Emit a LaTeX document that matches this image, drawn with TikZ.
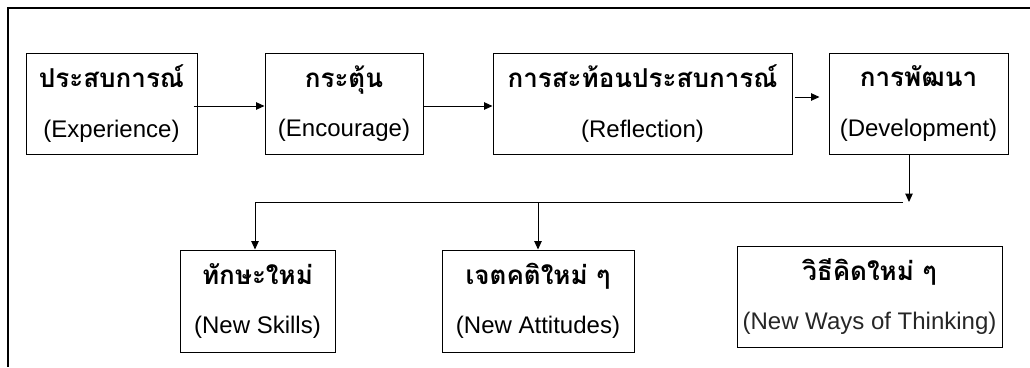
\documentclass[tikz,border=0pt]{standalone}
\usepackage{fontspec}
\setmainfont{Liberation Sans}
\newfontfamily\thai[Script=Thai]{Loma}
\usetikzlibrary{arrows.meta}
\tikzset{
  box/.style={draw, line width=1pt, inner sep=0pt, align=center, minimum height=101pt},
  arr/.style={line width=1pt, -{Triangle[length=8.5pt,width=7.5pt]}},
  ln/.style={line width=1pt},
}
\newcommand{\thtxt}[1]{{\thai\bfseries\fontsize{26}{30}\selectfont\rule[-8pt]{0pt}{27pt}#1}}
\newcommand{\entxt}[1]{{\fontsize{24}{28}\selectfont #1}}
\newcommand{\bx}[2]{\thtxt{#1}\\[23pt]\entxt{#2}}
\begin{document}
\begin{tikzpicture}[x=1pt,y=-1pt]
\useasboundingbox (0,0) rectangle (1030,367);
\draw[line width=1.3pt] (1030,8) -- (8,8) -- (8,367);
\node[box, minimum width=171pt] (e1) at (111.5,103.5) {\bx{ประสบการณ์}{(Experience)}};
\node[box, minimum width=158pt] (e2) at (344,103.5) {\bx{กระตุ้น}{(Encourage)}};
\node[box, minimum width=299pt] (e3) at (642.5,103.5) {\bx{การสะท้อนประสบการณ์}{(Reflection)}};
\node[box, minimum width=179pt] (e4) at (918.5,103.5) {\bx{การพัฒนา}{(Development)}};
\node[box, minimum width=155pt, minimum height=102pt] (s1) at (257.5,301) {\bx{ทักษะใหม่}{(New Skills)}};
\node[box, minimum width=192pt, minimum height=102pt] (s2) at (538,301) {\bx{เจตคติใหม่ ๆ}{(New Attitudes)}};
\node[box, minimum width=265pt] (s3) at (869.5,296.5) {\thtxt{วิธีคิดใหม่ ๆ}\\[23pt]{\color{black!85}\entxt{(New Ways of Thinking)}}};
\coordinate (j) at (909,202);
\coordinate (bR) at (903,202);
\coordinate (bL) at (255,202);
\coordinate (bM) at (538,202);
\draw[arr] ([xshift=-4pt,yshift=-2.5pt]e1.east) -- ([yshift=-2.5pt]e2.west);
\draw[arr] ([yshift=-2.5pt]e2.east) -- ([yshift=-2.5pt]e3.west);
\draw[arr] ([xshift=2pt,yshift=6.5pt]e3.east) -- ([xshift=-9pt,yshift=6.5pt]e4.west);
\draw[arr] ([xshift=-9.5pt]e4.south) -- (j);
\draw[arr] (bR) -- (bL) -- (bL |- s1.north);
\draw[arr] (bM) -- (s2.north);
\end{tikzpicture}
\end{document}
